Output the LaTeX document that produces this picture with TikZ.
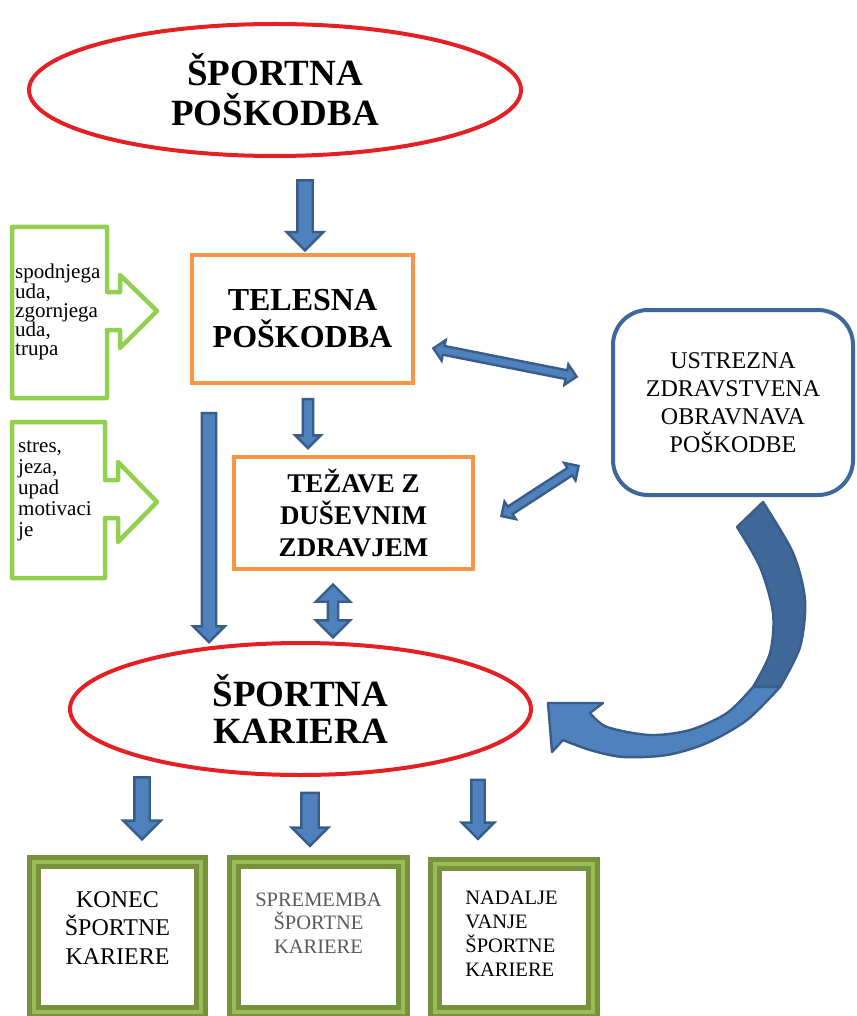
\documentclass[tikz,border=0pt]{standalone}
\usepackage{fontspec}
\setmainfont{Liberation Serif}
\usetikzlibrary{shapes.geometric, shapes.arrows, positioning, calc}

\definecolor{ovalred}{RGB}{228,32,36}
\definecolor{boxorange}{RGB}{247,150,70}
\definecolor{callgreen}{RGB}{146,208,80}
\definecolor{endolive}{RGB}{118,146,60}
\definecolor{endlight}{RGB}{155,187,89}
\definecolor{arrfill}{RGB}{79,129,189}
\definecolor{arrline}{RGB}{56,93,138}
\definecolor{curvdark}{RGB}{63,103,151}
\definecolor{careline}{RGB}{62,103,155}
\definecolor{txtgray}{RGB}{89,89,89}

\begin{document}
\begin{tikzpicture}[x=1pt, y=-1pt,
    oval/.style={ellipse, draw=ovalred, line width=4pt, inner sep=0pt, align=center, font=\fontsize{37}{40}\selectfont\bfseries},
    box/.style={rectangle, draw=boxorange, line width=4pt, inner sep=0pt, align=center},
    callout/.style={draw=callgreen, line width=4.5pt, line join=round},
    calltext/.style={anchor=north west, inner sep=0pt, align=left},
    endbox/.style={rectangle, draw=endolive, line width=5pt, double=endlight, double distance=4pt, inner sep=0pt, minimum height=150},
    arrdown/.style n args={3}{single arrow, draw=arrline, fill=arrfill, line width=2.4pt, inner xsep=0pt, rotate=-90, minimum height=#1, inner ysep={#2/2}, single arrow head extend=#3, minimum width={#2+2*#3}},
    arrboth/.style n args={4}{double arrow, draw=arrline, fill=arrfill, line width=2.4pt, inner xsep=0pt, rotate=#4, minimum height=#1, inner ysep={#2/2}, double arrow head extend=#3, minimum width={#2+2*#3}}
]
    \useasboundingbox (0,0) rectangle (856,1016);

    % main blocks
    \node[oval, minimum width=492, minimum height=132] (sport) at (275,90) {ŠPORTNA\\POŠKODBA};
    \node[box, minimum width=221, minimum height=128, font=\fontsize{32}{37}\selectfont\bfseries] (telesna) at (302.5,319) {TELESNA\\POŠKODBA};
    \node[box, minimum width=239, minimum height=112, font=\fontsize{27}{32}\selectfont\bfseries] (tezave) at (353.5,513) {TEŽAVE Z\\DUŠEVNIM\\ZDRAVJEM};
    \node[rectangle, rounded corners=35pt, draw=careline, line width=4pt, minimum width=240, minimum height=185, align=center, font=\fontsize{24}{28}\selectfont] (oskrba) at (733,402.5) {USTREZNA\\ZDRAVSTVENA\\OBRAVNAVA\\POŠKODBE};
    \node[oval, minimum width=461, minimum height=132, font=\fontsize{37}{37}\selectfont\bfseries] (kariera) at (300.5,709) {ŠPORTNA\\KARIERA};

    % green callouts on the left
    \draw[callout] (12,227) -- (107,227) -- (107,292) -- (120,292) -- (120,275) -- (157,311) -- (120,348) -- (120,330) -- (107,330) -- (107,398) -- (12,398) -- cycle;
    \node[calltext, font=\fontsize{21}{19.3}\selectfont] (delitxt) at (15,264) {spodnjega\\uda,\\zgornjega\\uda,\\trupa};
    \draw[callout] (12,422) -- (105,422) -- (105,480) -- (118,480) -- (118,462) -- (157,502) -- (118,542) -- (118,518) -- (105,518) -- (105,578) -- (12,578) -- cycle;
    \node[calltext, font=\fontsize{21}{21}\selectfont] (psihatxt) at (18,440) {stres,\\jeza,\\upad\\motivaci\\je};

    % block arrows
    \node[arrdown={70}{13}{10.5}] (a1) at (305,211.5) {};
    \node[arrdown={49}{8}{7.5}] (a2) at (308,421) {};
    \node[arrdown={229}{12}{8.5}] (a3) at (209,524) {};
    \node[arrboth={53}{8}{12}{90}] (a4) at (333,611) {};
    \node[arrboth={146}{6.5}{6}{-11.2}] (a5) at (505,362.5) {};
    \node[arrboth={92}{6.5}{6}{33}] (a6) at (540,491) {};

    % curved arrow back to the career
    \filldraw[fill=curvdark, draw=arrline, line width=2.4pt, line join=round]
        plot[smooth] coordinates {(763,502) (793,553) (805,600) (800,647) (780,687)}
        -- plot[smooth] coordinates {(753,687) (770,653) (773,613) (760,567) (737,527)} -- cycle;
    \filldraw[fill=arrfill, draw=arrline, line width=2.4pt, line join=round]
        plot[smooth] coordinates {(780,687) (747,720) (707,743) (667,755) (623,757) (590,750) (563,740)}
        -- (552,752) -- (548,703) -- (603,703)
        -- plot[smooth] coordinates {(590,713) (607,727) (650,735) (690,730) (727,713) (753,687)} -- cycle;

    % outcomes
    \node[arrdown={62}{13}{11}] (b1) at (142,804.5) {};
    \node[arrdown={53}{15}{9.5}] (b2) at (310,815) {};
    \node[arrdown={59}{11}{9.5}] (b3) at (478,806) {};
    \node[endbox, minimum width=167, label={[name=konectxt, yshift=9pt, align=center, font=\fontsize{24}{28.5}\selectfont]center:KONEC\\ŠPORTNE\\KARIERE}] (konec) at (117.5,937) {};
    \node[endbox, minimum width=169, label={[name=spremtxt, yshift=14pt, align=center, text=txtgray, font=\fontsize{20.5}{23.5}\selectfont]center:SPREMEMBA\\ŠPORTNE\\KARIERE}] (sprem) at (318.5,937) {};
    \node[endbox, minimum width=158, minimum height=148, label={[name=nadtxt, xshift=-2.5pt, yshift=4pt, align=left, font=\fontsize{20.5}{24}\selectfont]center:NADALJE\\VANJE\\ŠPORTNE\\KARIERE}] (nadalj) at (514,938) {};
\end{tikzpicture}
\end{document}
